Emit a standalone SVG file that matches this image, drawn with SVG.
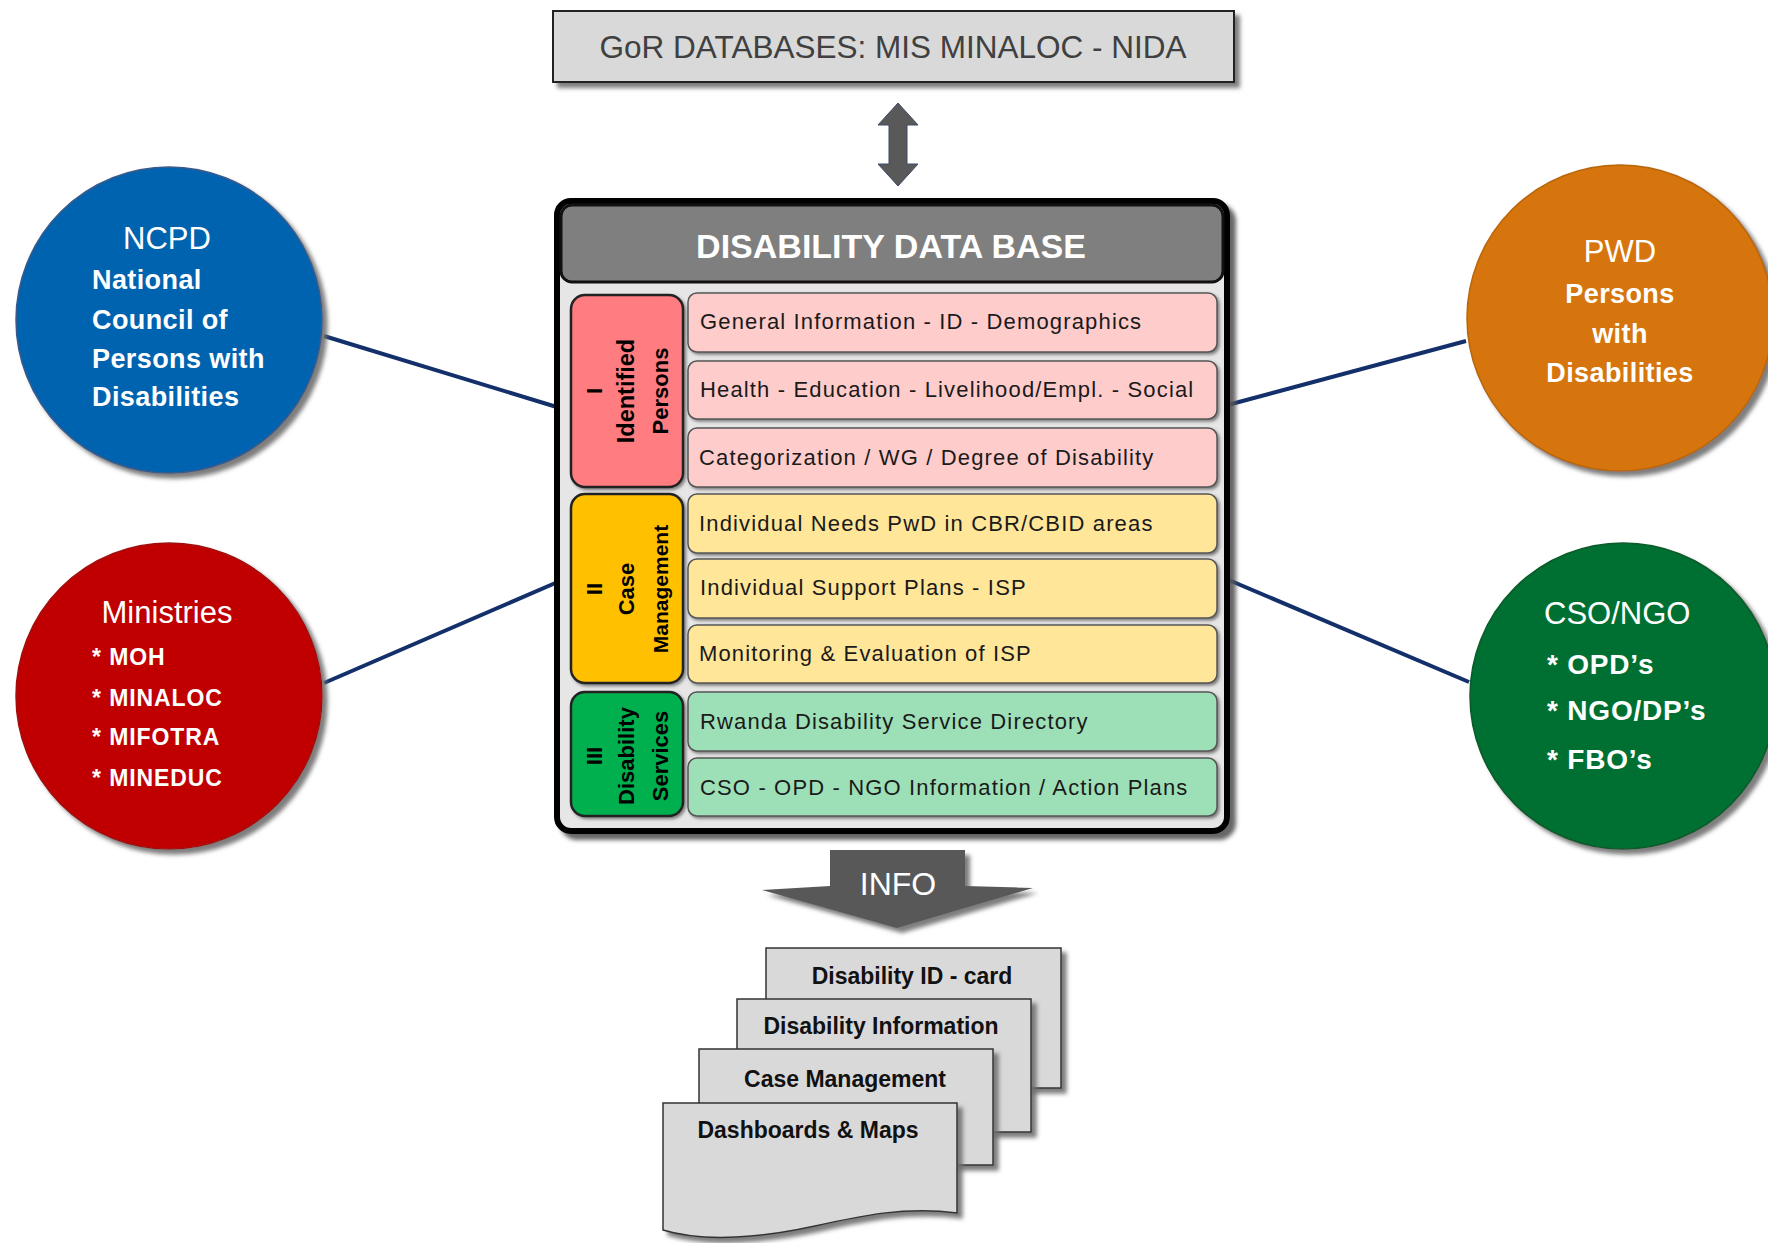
<svg xmlns="http://www.w3.org/2000/svg" width="1768" height="1243" viewBox="0 0 1768 1243">
<defs>
<filter id="sh" x="-20%" y="-20%" width="140%" height="140%"><feDropShadow dx="5" dy="5" stdDeviation="2" flood-color="#6f6f6f" flood-opacity="0.9"/></filter>
<filter id="shs" x="-20%" y="-20%" width="140%" height="140%"><feDropShadow dx="2" dy="2" stdDeviation="1.5" flood-color="#555" flood-opacity="0.7"/></filter>
<filter id="shd" x="-10%" y="-10%" width="130%" height="130%"><feDropShadow dx="6" dy="6" stdDeviation="2" flood-color="#555" flood-opacity="0.9"/></filter>
</defs>
<style>
text{font-family:"Liberation Sans",Arial,sans-serif}
.row{stroke:#555;stroke-width:1.5}
.pink{fill:#ffcccc}.yel{fill:#ffe699}.grn{fill:#9de0b8}
.rt{font-size:22px;fill:#1a1a1a;letter-spacing:1.15px}
.tab{stroke:#222;stroke-width:2.5}
.tt{font-size:22px;font-weight:bold;fill:#000;text-anchor:middle}
.ct{fill:#fff;font-size:31px}
.cb{fill:#fff;font-size:27px;font-weight:bold;letter-spacing:0.4px}
.mi{fill:#fff;font-size:23px;font-weight:bold;letter-spacing:0.9px}
.co{fill:#fff;font-size:28px;font-weight:bold;letter-spacing:0.8px}
.doc{fill:#d9d9d9;stroke:#333;stroke-width:1.5}
.dt{font-size:23px;font-weight:bold;fill:#111;text-anchor:middle}
.conn{stroke:#13306b;stroke-width:4;fill:none}
</style>
<rect width="1768" height="1243" fill="#fff"/>
<g id="connectors">
<line class="conn" x1="324" y1="336" x2="560" y2="408"/>
<line class="conn" x1="324" y1="683" x2="560" y2="581"/>
<line class="conn" x1="1224" y1="406" x2="1466" y2="341"/>
<line class="conn" x1="1224" y1="578" x2="1469" y2="682"/>
<polygon points="898,103 918,125 907,125 907,164 918,164 898,186 878,164 889,164 889,125 878,125" fill="#595959" stroke="#3c4a6b" stroke-width="1"/>
</g>
<g id="gor">
<rect x="553" y="11" width="681" height="71" fill="#d9d9d9" stroke="#222" stroke-width="2" filter="url(#sh)"/>
<text x="893" y="58" text-anchor="middle" font-size="31.5" fill="#404040">GoR DATABASES: MIS MINALOC - NIDA</text>
</g>
<g id="ncpd">
<circle cx="169" cy="320" r="153" fill="#0563b0" stroke="#3a5a8a" stroke-width="1.5" filter="url(#sh)"/>
<text class="ct" x="167" y="249" text-anchor="middle">NCPD</text>
<text class="cb" x="92" y="289">National</text>
<text class="cb" x="92" y="329">Council of</text>
<text class="cb" x="92" y="368">Persons with</text>
<text class="cb" x="92" y="406">Disabilities</text>
</g>
<g id="ministries">
<circle cx="169" cy="696" r="153" fill="#c00000" stroke="#a01010" stroke-width="1.5" filter="url(#sh)"/>
<text class="ct" x="167" y="623" text-anchor="middle">Ministries</text>
<text class="mi" x="92" y="665">* MOH</text>
<text class="mi" x="92" y="706">* MINALOC</text>
<text class="mi" x="92" y="745">* MIFOTRA</text>
<text class="mi" x="92" y="786">* MINEDUC</text>
</g>
<g id="pwd">
<circle cx="1620" cy="318" r="153" fill="#d67507" stroke="#b8660a" stroke-width="1.5" filter="url(#sh)"/>
<text class="ct" x="1620" y="262" text-anchor="middle">PWD</text>
<text class="cb" x="1620" y="303" text-anchor="middle">Persons</text>
<text class="cb" x="1620" y="343" text-anchor="middle">with</text>
<text class="cb" x="1620" y="382" text-anchor="middle">Disabilities</text>
</g>
<g id="cso">
<circle cx="1623" cy="696" r="153" fill="#006f30" stroke="#0a5a2a" stroke-width="1.5" filter="url(#sh)"/>
<text class="ct" x="1544" y="624">CSO/NGO</text>
<text class="co" x="1547" y="674">* OPD’s</text>
<text class="co" x="1547" y="720">* NGO/DP’s</text>
<text class="co" x="1547" y="769">* FBO’s</text>
</g>
<g id="database">
<rect x="557" y="201" width="670" height="630" rx="14" fill="#e6e6e6" stroke="#000" stroke-width="6" filter="url(#shd)"/>
<rect x="561" y="205" width="662" height="77" rx="11" fill="#7f7f7f" stroke="#111" stroke-width="3"/>
<text x="891" y="258" text-anchor="middle" font-size="34" font-weight="bold" fill="#fff">DISABILITY DATA BASE</text>
</g>
<g id="tab-identified">
<rect class="tab" x="571" y="295" width="112" height="192" rx="14" fill="#ff7c80" filter="url(#shs)"/>
<text class="tt" x="602" y="391" transform="rotate(-90 602 391)">I</text>
<text class="tt" x="634" y="391" transform="rotate(-90 634 391)" style="font-size:23.5px">Identified</text>
<text class="tt" x="668" y="391" transform="rotate(-90 668 391)">Persons</text>
</g>
<g id="tab-case">
<rect class="tab" x="571" y="494" width="112" height="189" rx="14" fill="#ffc000" filter="url(#shs)"/>
<text class="tt" x="602" y="589" transform="rotate(-90 602 589)">II</text>
<text class="tt" x="634" y="589" transform="rotate(-90 634 589)">Case</text>
<text class="tt" x="668" y="589" transform="rotate(-90 668 589)" style="font-size:21px">Management</text>
</g>
<g id="tab-services">
<rect class="tab" x="571" y="692" width="112" height="124" rx="14" fill="#00b050" filter="url(#shs)"/>
<text class="tt" x="602" y="756" transform="rotate(-90 602 756)">III</text>
<text class="tt" x="634" y="756" transform="rotate(-90 634 756)">Disability</text>
<text class="tt" x="668" y="756" transform="rotate(-90 668 756)">Services</text>
</g>
<g id="row1"><rect class="row pink" x="688" y="293" width="529" height="59" rx="9" filter="url(#shs)"/><text class="rt" x="700" y="329">General Information - ID - Demographics</text></g>
<g id="row2"><rect class="row pink" x="688" y="361" width="529" height="58" rx="9" filter="url(#shs)"/><text class="rt" x="700" y="397">Health  - Education  - Livelihood/Empl. - Social</text></g>
<g id="row3"><rect class="row pink" x="688" y="428" width="529" height="59" rx="9" filter="url(#shs)"/><text class="rt" x="699" y="465">Categorization / WG / Degree of Disability</text></g>
<g id="row4"><rect class="row yel" x="688" y="494" width="529" height="59" rx="9" filter="url(#shs)"/><text class="rt" x="699" y="531">Individual Needs PwD in CBR/CBID areas</text></g>
<g id="row5"><rect class="row yel" x="688" y="559" width="529" height="59" rx="9" filter="url(#shs)"/><text class="rt" x="700" y="595">Individual Support Plans  - ISP</text></g>
<g id="row6"><rect class="row yel" x="688" y="625" width="529" height="58" rx="9" filter="url(#shs)"/><text class="rt" x="699" y="661">Monitoring &amp; Evaluation of ISP</text></g>
<g id="row7"><rect class="row grn" x="688" y="692" width="529" height="59" rx="9" filter="url(#shs)"/><text class="rt" x="700" y="729">Rwanda Disability Service Directory</text></g>
<g id="row8"><rect class="row grn" x="688" y="758" width="529" height="58" rx="9" filter="url(#shs)"/><text class="rt" x="700" y="795">CSO  - OPD - NGO  Information / Action Plans</text></g>
<g id="info">
<polygon points="830,850 965,850 965,886 1033,888 897,928 762,890 830,886" fill="#595959" filter="url(#sh)"/>
<text x="898" y="895" text-anchor="middle" font-size="32" fill="#fff">INFO</text>
</g>
<g id="doc-idcard">
<rect class="doc" x="766" y="948" width="295" height="140" filter="url(#sh)"/>
<text class="dt" x="912" y="984">Disability ID - card</text>
</g>
<g id="doc-info">
<rect class="doc" x="737" y="999" width="294" height="133" filter="url(#sh)"/>
<text class="dt" x="881" y="1034">Disability Information</text>
</g>
<g id="doc-case">
<rect class="doc" x="699" y="1049" width="294" height="116" filter="url(#sh)"/>
<text class="dt" x="845" y="1087">Case Management</text>
</g>
<g id="doc-dash">
<path class="doc" d="M663,1103 H957 V1213 C905,1206 860,1216 815,1226 C765,1237 705,1243 663,1230 Z" filter="url(#sh)"/>
<text class="dt" x="808" y="1138">Dashboards &amp; Maps</text>
</g>
</svg>
